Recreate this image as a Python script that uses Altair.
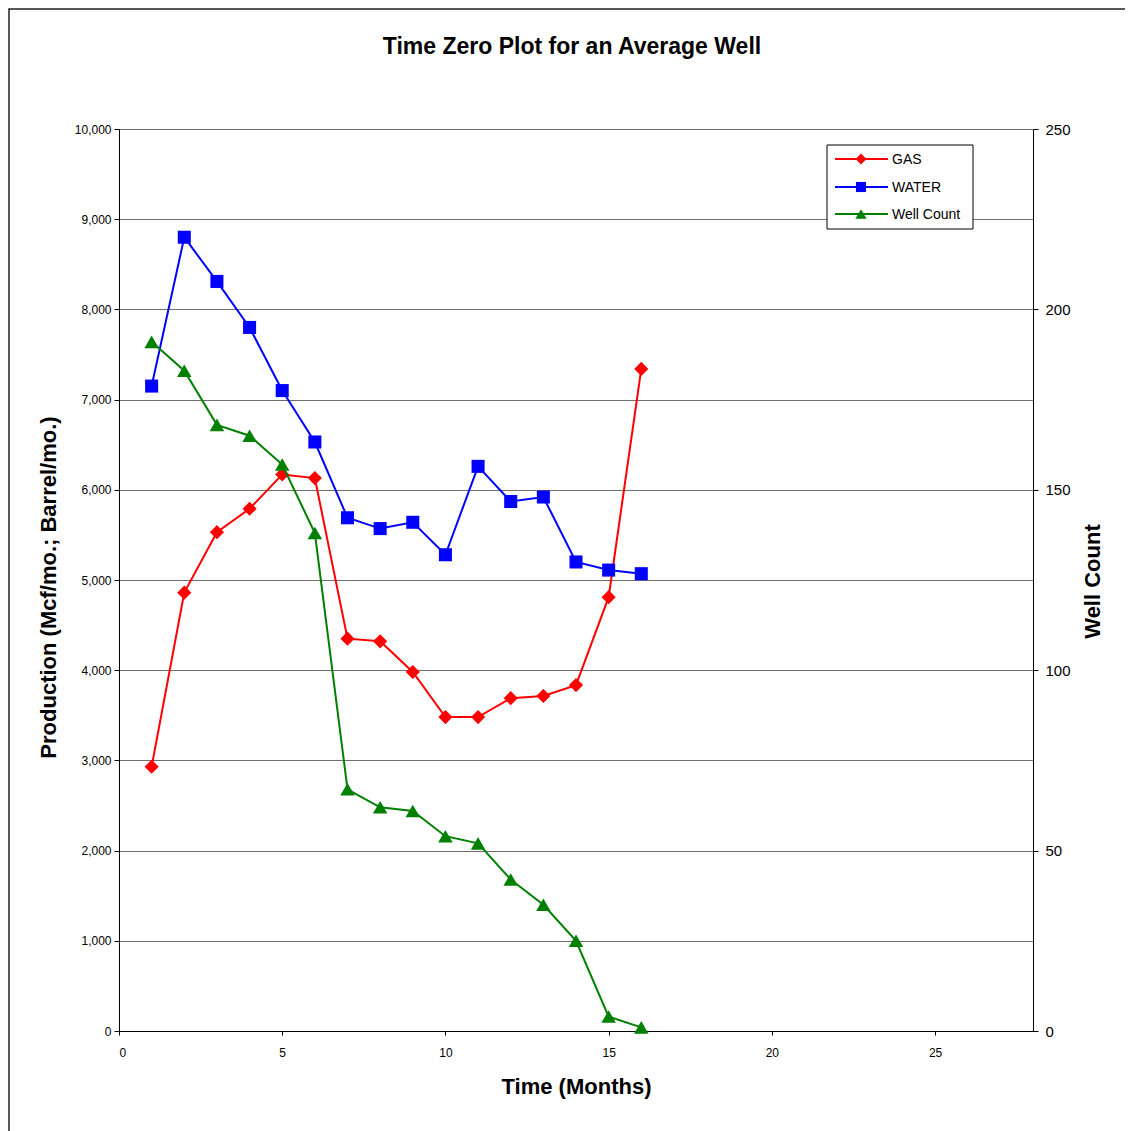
import altair as alt
import pandas as pd

# ---- data ----
months = list(range(1, 17))
gas = [2930, 4860, 5530, 5790, 6170, 6130, 4350, 4320, 3980, 3480, 3480, 3690, 3715, 3835, 4810, 7340]
water = [7150, 8800, 8310, 7800, 7100, 6530, 5690, 5570, 5640, 5280, 6260, 5870, 5920, 5200, 5110, 5070]
wells = [191, 183, 168, 165, 157, 138, 67, 62, 61, 54, 52, 42, 35, 25, 4, 1]

series_names = ["GAS", "WATER", "Well Count"]
series_colors = ["#FF0000", "#0000FF", "#008000"]
series_shapes = ["diamond", "square", "triangle-up"]
series_sizes = [200, 170, 210]

x_ticks = [0, 5, 10, 15, 20, 25]
left_ticks = list(range(0, 10001, 1000))
right_ticks = [0, 50, 100, 150, 200, 250]

df = pd.DataFrame({"Month": months, "GAS": gas, "WATER": water, "Well Count": wells})

FONT = "Liberation Sans"
W, H = 914, 902

x_enc = alt.X(
    "Month:Q",
    scale=alt.Scale(domain=[0, 28], nice=False, zero=False),
    axis=alt.Axis(
        values=x_ticks, title="Time (Months)", labelFontSize=12, labelPadding=12,
        tickSize=4, tickColor="black", domainColor="black", labelColor="black",
        titleFontSize=22, titleFontWeight="bold", titleColor="black",
        titleY=62, titleBaseline="alphabetic", grid=False, labelFont=FONT, titleFont=FONT,
    ),
)

left_axis = alt.Axis(
    values=left_ticks, format=",d", grid=True, gridColor="#6e6e6e", gridWidth=1,
    domainColor="black", tickColor="black", tickSize=5, labelPadding=3,
    labelFontSize=12, labelColor="black", labelFont=FONT,
    title="Production (Mcf/mo.; Barrel/mo.)", titleFontSize=22, titleFontWeight="bold",
    titleColor="black", titleFont=FONT, titleAngle=270, titleX=-64, titleY=458,
    titleBaseline="alphabetic",
)
right_axis = alt.Axis(
    orient="right", values=right_ticks, grid=False, domainColor="black", tickColor="black",
    tickSize=5, labelPadding=7, labelFontSize=15, labelColor="black", labelFont=FONT,
    title="Well Count", titleFontSize=22, titleFontWeight="bold", titleColor="black",
    titleFont=FONT, titleAngle=270, titleX=66, titleY=452, titleBaseline="alphabetic",
)


def series_layers(col, idx, y_scale, axis):
    y = alt.Y(f"{col}:Q", scale=y_scale, axis=axis)
    base = alt.Chart(df).encode(x=x_enc, y=y)
    line = base.mark_line(color=series_colors[idx], strokeWidth=2)
    pts = base.mark_point(
        shape=series_shapes[idx], filled=True, color=series_colors[idx],
        size=series_sizes[idx], opacity=1,
    )
    return [line, pts]


left_scale = alt.Scale(domain=[0, 10000], nice=False)
right_scale = alt.Scale(domain=[0, 250], nice=False)

left_layers = series_layers("GAS", 0, left_scale, left_axis) + series_layers("WATER", 1, left_scale, left_axis)

# ---- legend (drawn as marks inside the plot) ----
one = pd.DataFrame({"k": [0]})
leg = [
    alt.Chart(one).mark_rect(fill="white", stroke="black", strokeWidth=1).encode(
        x=alt.value(708), x2=alt.value(854), y=alt.value(16), y2=alt.value(100)
    )
]
leg_y = [30, 58, 85]
for i, name in enumerate(series_names):
    leg.append(alt.Chart(one).mark_rule(color=series_colors[i], strokeWidth=2).encode(
        x=alt.value(716), x2=alt.value(769), y=alt.value(leg_y[i])))
    leg.append(alt.Chart(one).mark_point(
        shape=series_shapes[i], filled=True, color=series_colors[i], size=series_sizes[i] * 0.6, opacity=1
    ).encode(x=alt.value(742), y=alt.value(leg_y[i])))
    leg.append(alt.Chart(one).mark_text(
        text=name, align="left", baseline="middle", fontSize=14, font=FONT, color="black"
    ).encode(x=alt.value(773), y=alt.value(leg_y[i] + 1)))

# outer frame of the picture
frame = alt.Chart(one).mark_rect(fill=None, stroke="#222222", strokeWidth=1.5).encode(
    x=alt.value(-110), x2=alt.value(1100), y=alt.value(-120), y2=alt.value(1100)
)

left = alt.layer(*left_layers, *leg, frame)
right = alt.layer(*series_layers("Well Count", 2, right_scale, right_axis))

chart = (
    alt.layer(left, right)
    .resolve_scale(y="independent")
    .properties(
        width=W, height=H,
        autosize=alt.AutoSizeParams(type="none"),
        padding={"left": 111, "top": 121, "right": 92, "bottom": 100},
        title=alt.TitleParams(
            "Time Zero Plot for an Average Well", fontSize=23, fontWeight="bold", font=FONT,
            color="black", anchor="middle", frame="group", baseline="alphabetic", offset=-69, dx=-4,
        ),
    )
    .configure_view(stroke=None)
    .configure(background="white")
)

chart.save("out.html", embed_options={"renderer": "svg", "actions": False})
